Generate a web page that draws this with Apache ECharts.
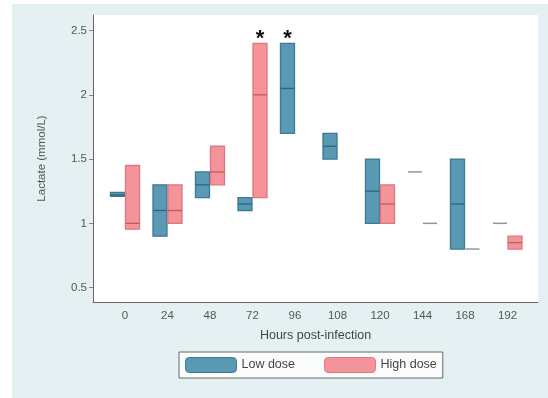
<!DOCTYPE html>
<html>
<head>
<meta charset="utf-8">
<script src="https://cdn.jsdelivr.net/npm/echarts@6/dist/echarts.min.js"></script>
<style>html,body{margin:0;padding:0;background:#fff;}#chart{width:548px;height:398px;}</style>
</head>
<body>
<div id="chart"></div>
<script>
// Categories (hours post-infection)
const categories = ['0', '24', '48', '72', '96', '108', '120', '144', '168', '192'];
// [q1, median, q3] per category; null = no data
const lowDose = [
  [1.21, 1.22, 1.24], [0.90, 1.10, 1.30], [1.20, 1.30, 1.40], [1.10, 1.15, 1.20],
  [1.70, 2.05, 2.40], [1.50, 1.60, 1.70], [1.00, 1.25, 1.50], [1.40, 1.40, 1.40],
  [0.80, 1.15, 1.50], [1.00, 1.00, 1.00]
];
const highDose = [
  [0.955, 1.00, 1.45], [1.00, 1.10, 1.30], [1.30, 1.40, 1.60], [1.20, 2.00, 2.40],
  null, null, [1.00, 1.15, 1.30], [1.00, 1.00, 1.00], [0.80, 0.80, 0.80], [0.80, 0.85, 0.90]
];
const yTickValues = [0.5, 1, 1.5, 2, 2.5];
const sigCategories = [3, 4];
const sigGroups = ['High dose', 'Low dose'];
const sigLevel = [2.475, 2.475];

const LOW = {fill: '#5a99b3', stroke: '#3d7a94', median: '#2c6680'};
const HIGH = {fill: '#f4939a', stroke: '#dd7880', median: '#c25963'};
const FLAT = '#8c979e';

function toData(arr) {
  const out = [];
  arr.forEach((d, i) => { if (d) out.push([i, d[0], d[1], d[2]]); });
  return out;
}

function makeRender(side, col) {
  return function (params, api) {
    const i = api.value(0), q1 = api.value(1), med = api.value(2), q3 = api.value(3);
    const c = api.coord([i, med]);
    const top = api.coord([i, q3])[1];
    const bot = api.coord([i, q1])[1];
    const bw = api.size([1, 0])[0] * 0.33;
    const x0 = side < 0 ? c[0] - 0.5 - bw : c[0] + 0.5;
    const children = [];
    if (q3 > q1) {
      children.push({type: 'rect', shape: {x: x0, y: top, width: bw, height: bot - top},
        style: {fill: col.fill, stroke: col.stroke, lineWidth: 1.3}});
      children.push({type: 'line', shape: {x1: x0, y1: c[1], x2: x0 + bw, y2: c[1]},
        style: {stroke: col.median, lineWidth: 1.3}});
    } else {
      children.push({type: 'line', shape: {x1: x0, y1: c[1], x2: x0 + bw, y2: c[1]},
        style: {stroke: FLAT, lineWidth: 1.5}});
    }
    return {type: 'group', children};
  };
}

const sigData = sigCategories.map((c, k) => [c, sigLevel[k], sigGroups[k] === 'Low dose' ? -1 : 1]);

const chart = echarts.init(document.getElementById('chart'), null, {renderer: 'canvas'});
chart.setOption({
  backgroundColor: '#e5f0f2',
  animation: false,
  graphic: [
    {type: 'rect', left: 0, top: 0, shape: {width: 12, height: 398}, style: {fill: '#ffffff'}, silent: true, z: -10},
    {type: 'rect', left: 0, top: 0, shape: {width: 548, height: 4}, style: {fill: '#ffffff'}, silent: true, z: -10}
  ],
  grid: {left: 93, right: 10, top: 15, bottom: 96, show: true, backgroundColor: '#ffffff', borderWidth: 0},
  xAxis: {
    type: 'value', min: -0.753, max: 9.718,
    name: 'Hours post-infection', nameLocation: 'middle', nameGap: 27,
    nameTextStyle: {fontFamily: 'Liberation Sans', fontSize: 12.5, color: '#444'},
    axisLine: {show: true, onZero: false, lineStyle: {color: '#666', width: 1}},
    axisTick: {show: false},
    splitLine: {show: false},
    axisLabel: {customValues: categories.map((c, i) => i), formatter: v => categories[Math.round(v)],
      fontFamily: 'Liberation Sans', fontSize: 11.5, color: '#555', margin: 8}
  },
  yAxis: {
    type: 'value', min: 0.388, max: 2.621,
    name: 'Lactate (mmol/L)', nameLocation: 'middle', nameGap: 45, nameRotate: 90,
    nameTextStyle: {fontFamily: 'Liberation Sans', fontSize: 11.5, color: '#555'},
    axisLine: {show: true, onZero: false, lineStyle: {color: '#666', width: 1}},
    axisTick: {show: true, customValues: yTickValues, length: 4, lineStyle: {color: '#888'}},
    splitLine: {show: false},
    axisLabel: {customValues: yTickValues, formatter: v => String(v),
      fontFamily: 'Liberation Sans', fontSize: 11.5, color: '#555', margin: 6}
  },
  legend: {
    left: 179, top: 352, orient: 'horizontal',
    padding: [5, 6, 5, 6], itemWidth: 51, itemHeight: 15, itemGap: 29,
    borderColor: '#666', borderWidth: 1, backgroundColor: '#fbfdfd',
    icon: 'roundRect',
    textStyle: {fontFamily: 'Liberation Sans', fontSize: 12.5, color: '#444'},
    data: [
      {name: 'Low dose', itemStyle: {color: LOW.fill, borderColor: LOW.stroke, borderWidth: 1}},
      {name: 'High dose', itemStyle: {color: HIGH.fill, borderColor: HIGH.stroke, borderWidth: 1}}
    ]
  },
  series: [
    {type: 'custom', name: 'Low dose', data: toData(lowDose), encode: {x: 0, y: [1, 2, 3]},
      itemStyle: {color: LOW.fill, borderColor: LOW.stroke}, renderItem: makeRender(-1, LOW)},
    {type: 'custom', name: 'High dose', data: toData(highDose), encode: {x: 0, y: [1, 2, 3]},
      itemStyle: {color: HIGH.fill, borderColor: HIGH.stroke}, renderItem: makeRender(1, HIGH)},
    {type: 'custom', name: 'sig', data: sigData, encode: {x: 0, y: 1}, z: 5,
      renderItem: function (params, api) {
        const p = api.coord([api.value(0), api.value(1)]);
        const bw = api.size([1, 0])[0] * 0.33;
        const x = p[0] + api.value(2) * (0.5 + bw / 2);
        return {type: 'text', style: {text: '*', x: x, y: p[1] + 5, textAlign: 'center', textVerticalAlign: 'middle',
          font: 'bold 22px "Liberation Sans"', fill: '#111'}};
      }}
  ]
});
</script>
</body>
</html>
